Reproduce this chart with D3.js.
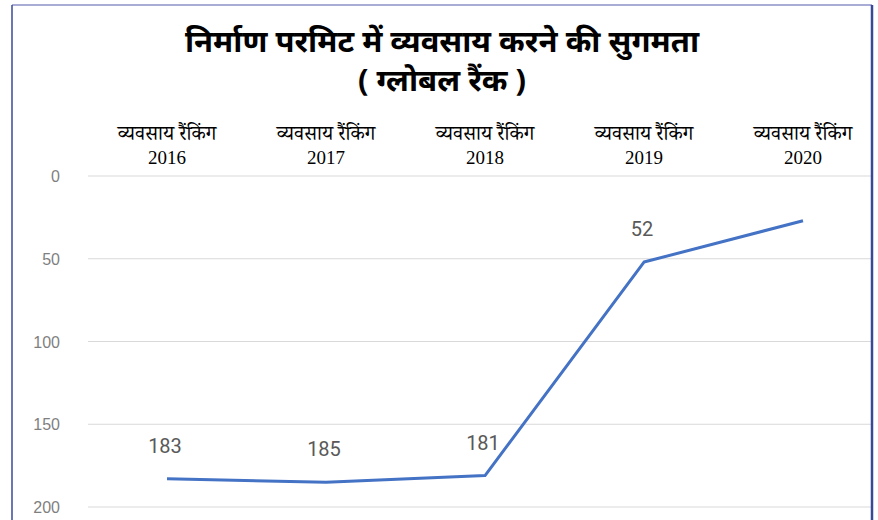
<!doctype html>
<html>
    <head>
        <meta charset="utf-8">
        <title>निर्माण परमिट में व्यवसाय करने की सुगमता</title>
        <script src="https://d3js.org/d3.v7.min.js"></script>
        <style type="text/css">
            body { margin: 0; background: #fff; }
            .title { font-family: "Noto Sans", "Noto Sans Devanagari", sans-serif; font-weight: bold; font-size: 31px; fill: #000; }
            .cat { font-family: "Liberation Serif", "Noto Serif Devanagari", serif; font-size: 19px; fill: #000; }
            .cat.hi { font-size: 20px; }
            .ytick { font-family: "Liberation Sans", sans-serif; font-size: 16px; fill: #7f7f7f; }
            .dlabel { font-family: "Roboto", "Liberation Sans", sans-serif; font-size: 20px; fill: #595959; }
        </style>
    </head>
    <body>
        <script>
        var years = ["2016", "2017", "2018", "2019", "2020"];
        var catPrefix = "व्यवसाय रैंकिंग";
        var ranks = [183, 185, 181, 52, 27];
        var shownLabels = [true, true, true, true, false];
        var yTicks = [0, 50, 100, 150, 200];
        var titleLines = ["निर्माण परमिट में व्यवसाय करने की सुगमता", "( ग्लोबल रैंक )"];

        var svg = d3.select("body").append("svg")
            .attr("width", 878).attr("height", 520);

        svg.append("rect").attr("width", 878).attr("height", 520).attr("fill", "#fff");

        var x = d3.scalePoint().domain(years).range([167, 803]);
        var y = d3.scaleLinear().domain([0, 200]).range([176, 507]);

        // gridlines
        svg.append("g").selectAll("line")
            .data(yTicks)
            .enter().append("line")
                .attr("x1", 88).attr("x2", 871)
                .attr("y1", function(d) { return y(d); })
                .attr("y2", function(d) { return y(d); })
                .attr("stroke", "#d9d9d9")
                .attr("stroke-width", 1);

        // y axis labels
        svg.append("g").selectAll("text")
            .data(yTicks)
            .enter().append("text")
                .attr("class", "ytick")
                .attr("x", 60)
                .attr("y", function(d) { return y(d) + 6; })
                .attr("text-anchor", "end")
                .text(function(d) { return d; });

        // title
        svg.append("g").selectAll("text")
            .data(titleLines)
            .enter().append("text")
                .attr("class", "title")
                .attr("x", 442)
                .attr("y", function(d, i) { return 52 + i * 39; })
                .attr("text-anchor", "middle")
                .text(function(d) { return d; });

        // category labels along the top
        var cats = svg.append("g").selectAll("g")
            .data(years)
            .enter().append("g")
                .attr("transform", function(d) { return "translate(" + x(d) + ",0)"; });
        cats.append("text").attr("class", "cat hi")
            .attr("y", 140).attr("text-anchor", "middle")
            .text(catPrefix);
        cats.append("text").attr("class", "cat")
            .attr("y", 164).attr("text-anchor", "middle")
            .text(function(d) { return d; });

        // line
        var line = d3.line()
            .x(function(d, i) { return x(years[i]); })
            .y(function(d) { return y(d); });

        svg.append("path")
            .attr("d", line(ranks))
            .attr("fill", "none")
            .attr("stroke", "#4472c4")
            .attr("stroke-width", 3)
            .attr("stroke-linejoin", "round");

        // data labels
        svg.append("g").selectAll("text")
            .data(ranks)
            .enter().filter(function(d, i) { return shownLabels[i]; }).append("text")
                .attr("class", "dlabel")
                .attr("x", function(d, i) { return x(years[i]) - 2; })
                .attr("y", function(d) { return y(d) - 26; })
                .attr("text-anchor", "middle")
                .text(function(d) { return d; });

        // frame
        svg.append("line").attr("x1", 12).attr("x2", 872).attr("y1", 5).attr("y2", 5)
            .attr("stroke", "#8c92c8").attr("stroke-width", 1.5);
        svg.append("line").attr("x1", 12).attr("x2", 12).attr("y1", 5).attr("y2", 520)
            .attr("stroke", "#3a4899").attr("stroke-width", 1.5);
        svg.append("line").attr("x1", 872).attr("x2", 872).attr("y1", 5).attr("y2", 520)
            .attr("stroke", "#3a4899").attr("stroke-width", 2.5);
        </script>
    </body>
</html>
